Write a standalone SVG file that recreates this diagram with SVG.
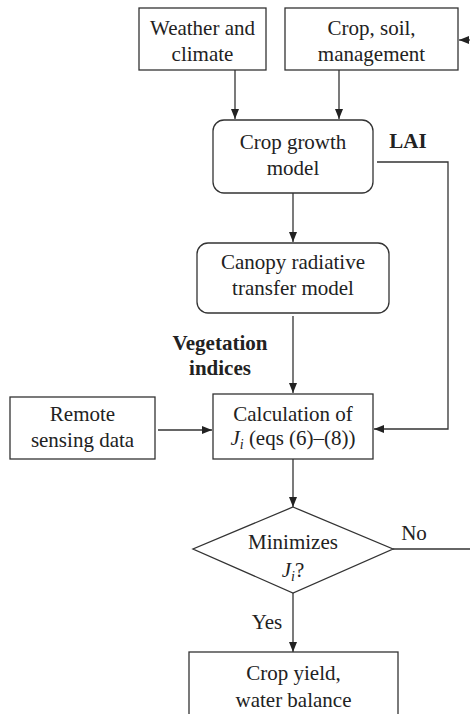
<svg xmlns="http://www.w3.org/2000/svg" width="470" height="714" viewBox="0 0 470 714">
<style>
.box{fill:#fff;stroke:#333;stroke-width:1.3}
.ln{fill:none;stroke:#333;stroke-width:1.3}
text{font-family:"Liberation Serif","Times New Roman",serif;font-size:21px;fill:#222;text-anchor:middle}
.b{font-weight:bold}
.it{font-style:italic}
.sub{font-size:14px;font-style:italic}
</style>
<defs>
<marker id="ah" viewBox="0 0 10 10" refX="10" refY="5" markerWidth="10" markerHeight="10" markerUnits="userSpaceOnUse" orient="auto">
<path d="M0,1 L10,5 L0,9 Z" fill="#222"/>
</marker>
</defs>
<rect width="470" height="714" fill="#fff"/>
<g id="connectors">
<path class="ln" d="M235,70 V119" marker-end="url(#ah)"/>
<path class="ln" d="M339,70 V119" marker-end="url(#ah)"/>
<path class="ln" d="M470,40 H459" marker-end="url(#ah)"/>
<path class="ln" d="M293,193 V242" marker-end="url(#ah)"/>
<path class="ln" d="M377,162 H448 V429 H374" marker-end="url(#ah)"/>
<path class="ln" d="M293,316 V393" marker-end="url(#ah)"/>
<path class="ln" d="M158,430 H212" marker-end="url(#ah)"/>
<path class="ln" d="M293,459 V507" marker-end="url(#ah)"/>
<path class="ln" d="M393,549 H470"/>
<path class="ln" d="M293,593 V652" marker-end="url(#ah)"/>
<text class="b" x="408" y="148">LAI</text>
<text class="b" x="220" y="350">Vegetation</text>
<text class="b" x="220" y="375">indices</text>
<text x="414" y="540">No</text>
<text x="267" y="629">Yes</text>
</g>
<g id="weather">
<rect class="box" x="139" y="8" width="127" height="62"/>
<text x="202.5" y="35">Weather and</text>
<text x="202.5" y="61">climate</text>
</g>
<g id="crop-soil">
<rect class="box" x="285" y="8" width="173" height="62"/>
<text x="371.5" y="35">Crop, soil,</text>
<text x="371.5" y="61">management</text>
</g>
<g id="crop-growth">
<rect class="box" x="213" y="120" width="160" height="73" rx="11"/>
<text x="293" y="149">Crop growth</text>
<text x="293" y="175">model</text>
</g>
<g id="canopy">
<rect class="box" x="197" y="243" width="192" height="70" rx="11"/>
<text x="293" y="269">Canopy radiative</text>
<text x="293" y="295">transfer model</text>
</g>
<g id="remote">
<rect class="box" x="10" y="397" width="145" height="62"/>
<text x="82.5" y="421">Remote</text>
<text x="82.5" y="447">sensing data</text>
</g>
<g id="calculation">
<rect class="box" x="213" y="394" width="160" height="65"/>
<text x="293" y="421">Calculation of</text>
<text x="293" y="445"><tspan class="it">J</tspan><tspan class="sub" dy="4">i</tspan><tspan dy="-4"> (eqs (6)–(8))</tspan></text>
</g>
<g id="decision">
<path class="box" d="M293,507 L393,549 L293,593 L193,549 Z"/>
<text x="293" y="549">Minimizes</text>
<text x="293" y="577"><tspan class="it">J</tspan><tspan class="sub" dy="4">i</tspan><tspan dy="-4">?</tspan></text>
</g>
<g id="output">
<rect class="box" x="189" y="652" width="209" height="70"/>
<text x="293.5" y="680">Crop yield,</text>
<text x="293.5" y="707">water balance</text>
</g>
</svg>
